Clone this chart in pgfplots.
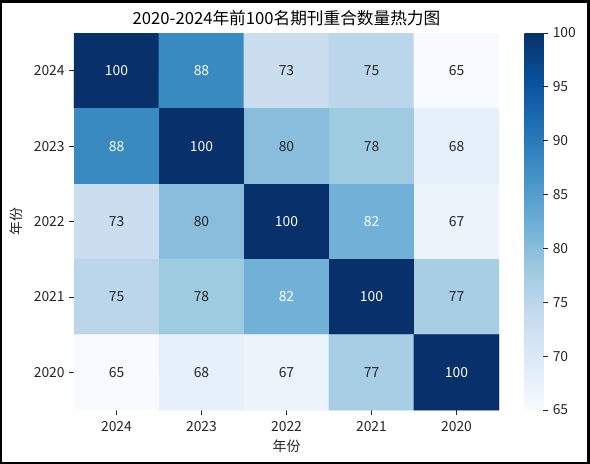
\documentclass[border=0pt]{standalone}
\usepackage{pgfplots}
\pgfplotsset{compat=1.18}
\usepackage{fontspec}
\setmainfont{Noto Sans CJK SC}
\definecolor{txt}{RGB}{38,38,38}
\pgfplotstableread{
x y C
0 0 100
1 0 88
2 0 73
3 0 75
4 0 65
0 1 88
1 1 100
2 1 80
3 1 78
4 1 68
0 2 73
1 2 80
2 2 100
3 2 82
4 2 67
0 3 75
1 3 78
2 3 82
3 3 100
4 3 77
0 4 65
1 4 68
2 4 67
3 4 77
4 4 100
}\heat
\begin{document}
\begin{tikzpicture}
\useasboundingbox (0,0) rectangle (442.5pt,348pt);
\draw[line width=1.7pt] (0.9pt,0.9pt) rectangle (441.3pt,346.9pt);
\begin{axis}[
  at={(55.5pt,40.5pt)}, anchor=south west,
  scale only axis, width=318.75pt, height=282.75pt,
  xmin=-0.5, xmax=4.5, ymin=-0.5, ymax=4.5, y dir=reverse,
  enlargelimits=false,
  xtick={0,1,2,3,4}, xticklabels={2024,2023,2022,2021,2020},
  ytick={0,1,2,3,4}, yticklabels={2024,2023,2022,2021,2020},
  tick pos=left, tick align=outside,
  major tick length=3.5pt,
  tick style={draw=txt, line width=0.6pt},
  axis line style={draw=none},
  ticklabel style={font=\fontsize{10.4}{12}\selectfont, text=txt},
  xticklabel style={yshift=-1.5pt},
  /pgf/number format/assume math mode=true,
  colormap={blues}{rgb255=(247,251,255) rgb255=(222,235,247) rgb255=(198,219,239) rgb255=(158,202,225) rgb255=(107,174,214) rgb255=(66,146,198) rgb255=(33,113,181) rgb255=(8,81,156) rgb255=(8,48,107)},
  point meta min=65, point meta max=100,
  title={2020-2024年前100名期刊重合数量热力图},
  title style={at={(0.5,1.0172)}, anchor=center, font=\fontsize{12.5}{15}\selectfont, text=black},
  xlabel={年份}, ylabel={年份},
  xlabel style={at={(0.5,-0.0955)}, anchor=center, font=\fontsize{10.4}{12}\selectfont, text=txt},
  ylabel style={at={(-0.1365,0.5)}, anchor=center, font=\fontsize{10.4}{12}\selectfont, text=txt},
  colorbar,
  colorbar style={
    at={(parent axis.north east)}, anchor=north west, xshift=10.5pt,
    scale only axis, width=14.25pt, height=282.75pt,
    ytick={65,70,75,80,85,90,95,100},
    ytick pos=right, yticklabel pos=right, tick align=outside,
    major tick length=3.5pt,
    tick style={draw=txt, line width=0.6pt},
    axis line style={draw=none},
    ticklabel style={font=\fontsize{10.4}{12}\selectfont, text=txt},
    /pgf/number format/assume math mode=true,
  },
]
\addplot[matrix plot*, mesh/cols=5, point meta=explicit] table[x=x, y=y, meta=C] {\heat};
\addplot[only marks, mark=none, point meta=explicit symbolic, nodes near coords, nodes near coords align=center,
  every node near coord/.append style={font=\fontsize{10.4}{12}\selectfont, text=white}]
  coordinates {(0,0)[100] (1,0)[88] (1,1)[100] (0,1)[88] (2,2)[100] (3,2)[82] (2,3)[82] (3,3)[100] (4,4)[100]};
\addplot[only marks, mark=none, point meta=explicit symbolic, nodes near coords, nodes near coords align=center,
  every node near coord/.append style={font=\fontsize{10.4}{12}\selectfont, text=txt}]
  coordinates {(2,0)[73] (3,0)[75] (4,0)[65] (2,1)[80] (3,1)[78] (4,1)[68] (0,2)[73] (1,2)[80] (4,2)[67]
  (0,3)[75] (1,3)[78] (4,3)[77] (0,4)[65] (1,4)[68] (2,4)[67] (3,4)[77]};
\end{axis}
\end{tikzpicture}
\end{document}
